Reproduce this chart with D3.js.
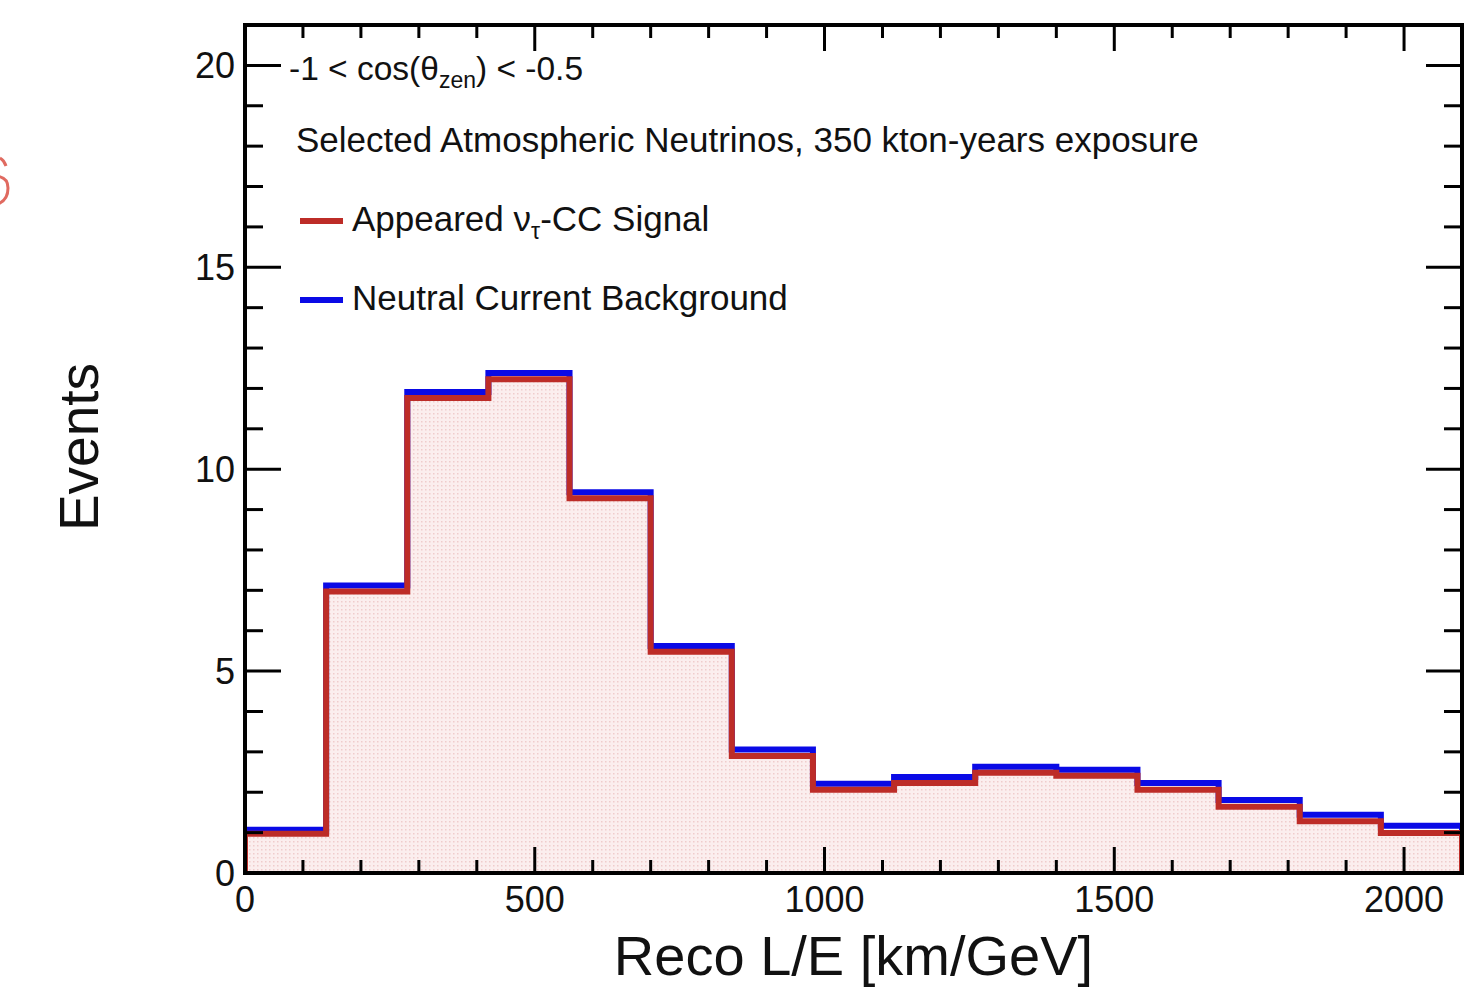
<!DOCTYPE html>
<html>
<head>
<meta charset="utf-8">
<script src="https://cdn.jsdelivr.net/npm/d3@7"></script>
<style>
  html, body { margin: 0; padding: 0; background: #ffffff; }
  svg { display: block; font-family: "Liberation Sans", Arial, Helvetica, sans-serif; }
</style>
</head>
<body>
<svg id="chart" width="1481" height="998"></svg>
<script>
// Reco L/E bin edges [km/GeV] (15 bins of 140)
const binEdges = [0, 140, 280, 420, 560, 700, 840, 980, 1120, 1260, 1400, 1540, 1680, 1820, 1960, 2100];
// Appeared nu_tau CC signal, events per bin
const signal = [0.97, 6.97, 11.76, 12.23, 9.28, 5.48, 2.90, 2.06, 2.23, 2.48, 2.41, 2.06, 1.64, 1.28, 0.99];
// Neutral current background, stacked on top of the signal
const background = [0.10, 0.15, 0.15, 0.15, 0.15, 0.14, 0.16, 0.15, 0.15, 0.15, 0.15, 0.17, 0.17, 0.16, 0.18];
// Axis ticks
const xMajorTicks = [0, 500, 1000, 1500, 2000];
const yMajorTicks = [0, 5, 10, 15, 20];
const xDomain = [0, 2100];
const yDomain = [0, 21];

const svg = d3.select("#chart");
const frame = { left: 245, right: 1462, top: 25, bottom: 873 };

const x = d3.scaleLinear().domain(xDomain).range([frame.left, frame.right]);
const y = d3.scaleLinear().domain(yDomain).range([frame.bottom, frame.top]);

const RED = "#bd2c27";
const BLUE = "#0a0ae6";

// Fill pattern: fine pink dots
const defs = svg.append("defs");
const pat = defs.append("pattern")
  .attr("id", "dots").attr("patternUnits", "userSpaceOnUse")
  .attr("width", 4).attr("height", 4);
pat.append("rect").attr("width", 4).attr("height", 4).attr("fill", "#fbeeee");
pat.append("rect").attr("x", 1).attr("y", 1).attr("width", 1.5).attr("height", 1.5).attr("fill", "#efcccc");

defs.append("clipPath").attr("id", "plotClip")
  .append("rect")
  .attr("x", frame.left).attr("y", frame.top)
  .attr("width", frame.right - frame.left).attr("height", frame.bottom - frame.top);

// Step path through histogram bins
function stepPoints(values) {
  const pts = [[binEdges[0], 0]];
  values.forEach((v, i) => {
    pts.push([binEdges[i], v]);
    pts.push([binEdges[i + 1], v]);
  });
  pts.push([binEdges[binEdges.length - 1], 0]);
  return pts;
}
const line = d3.line().x(d => x(d[0])).y(d => y(d[1]));

const total = signal.map((s, i) => s + background[i]);

const plot = svg.append("g").attr("clip-path", "url(#plotClip)");

// Signal fill
plot.append("path")
  .attr("d", line(stepPoints(signal)) + "Z")
  .attr("fill", "url(#dots)")
  .attr("stroke", "none");

// Stacked total (NC background on top)
plot.append("path")
  .attr("d", line(stepPoints(total)))
  .attr("fill", "none")
  .attr("stroke", BLUE)
  .attr("stroke-width", 6);

// Signal outline
plot.append("path")
  .attr("d", line(stepPoints(signal)))
  .attr("fill", "none")
  .attr("stroke", RED)
  .attr("stroke-width", 6);

// Ticks on all four sides
const ticks = svg.append("g").attr("stroke", "#000").attr("stroke-width", 3);
const xMinor = d3.range(0, 2101, 100);
xMinor.forEach(v => {
  const major = xMajorTicks.includes(v);
  const len = major ? 26 : 13;
  ticks.append("line").attr("x1", x(v)).attr("x2", x(v))
    .attr("y1", frame.bottom).attr("y2", frame.bottom - len);
  ticks.append("line").attr("x1", x(v)).attr("x2", x(v))
    .attr("y1", frame.top).attr("y2", frame.top + len);
});
const yMinor = d3.range(0, 21, 1);
yMinor.forEach(v => {
  const major = yMajorTicks.includes(v);
  const len = major ? 36 : 18;
  ticks.append("line").attr("x1", frame.left).attr("x2", frame.left + len)
    .attr("y1", y(v)).attr("y2", y(v));
  ticks.append("line").attr("x1", frame.right).attr("x2", frame.right - len)
    .attr("y1", y(v)).attr("y2", y(v));
});

// Frame
svg.append("rect")
  .attr("x", frame.left).attr("y", frame.top)
  .attr("width", frame.right - frame.left).attr("height", frame.bottom - frame.top)
  .attr("fill", "none").attr("stroke", "#000").attr("stroke-width", 4);

// Tick labels
svg.append("g").selectAll("text").data(xMajorTicks).join("text")
  .attr("x", d => x(d)).attr("y", frame.bottom + 39)
  .attr("text-anchor", "middle").attr("font-size", 36).attr("fill", "#111")
  .text(d => d);
svg.append("g").selectAll("text").data(yMajorTicks).join("text")
  .attr("x", frame.left - 10).attr("y", d => y(d)).attr("dy", "0.36em")
  .attr("text-anchor", "end").attr("font-size", 36).attr("fill", "#111")
  .text(d => d);

// Axis titles
svg.append("text")
  .attr("x", (frame.left + frame.right) / 2).attr("y", 975)
  .attr("text-anchor", "middle").attr("font-size", 56).attr("fill", "#111")
  .text("Reco L/E [km/GeV]");
svg.append("text")
  .attr("transform", `translate(98, ${(frame.top + frame.bottom) / 2 - 2}) rotate(-90)`)
  .attr("text-anchor", "middle").attr("font-size", 55).attr("fill", "#111")
  .text("Events");

// Annotations
const t1 = svg.append("text").attr("x", 289).attr("y", 80).attr("font-size", 33.5).attr("fill", "#111");
t1.append("tspan").text("-1 < cos(θ");
t1.append("tspan").attr("font-size", 23).attr("dy", 8).text("zen");
t1.append("tspan").attr("dy", -8).text(") < -0.5");

svg.append("text").attr("x", 296).attr("y", 152).attr("font-size", 35).attr("fill", "#111")
  .text("Selected Atmospheric Neutrinos, 350 kton-years exposure");

// Legend
const legend = [
  { color: RED, y: 221, parts: [["Appeared ν", 0], ["τ", 1], ["-CC Signal", 0]] },
  { color: BLUE, y: 300, parts: [["Neutral Current Background", 0]] }
];
legend.forEach(item => {
  svg.append("line").attr("x1", 300).attr("x2", 343)
    .attr("y1", item.y).attr("y2", item.y)
    .attr("stroke", item.color).attr("stroke-width", 6);
  const t = svg.append("text").attr("x", 352).attr("y", item.y + 10)
    .attr("font-size", 35).attr("fill", "#111");
  let prevSub = 0;
  item.parts.forEach(([s, sub]) => {
    const sp = t.append("tspan").text(s);
    if (sub) sp.attr("font-size", 23).attr("dy", 8);
    else if (prevSub) sp.attr("dy", -8);
    prevSub = sub;
  });
});

// Red pencil mark at the left edge
svg.append("path")
  .attr("d", "M0,158 Q4,160 6,166 M-6,176 Q8,176 8,188 Q8,200 -2,204")
  .attr("fill", "none").attr("stroke", "#e06a60").attr("stroke-width", 3);
</script>
</body>
</html>
